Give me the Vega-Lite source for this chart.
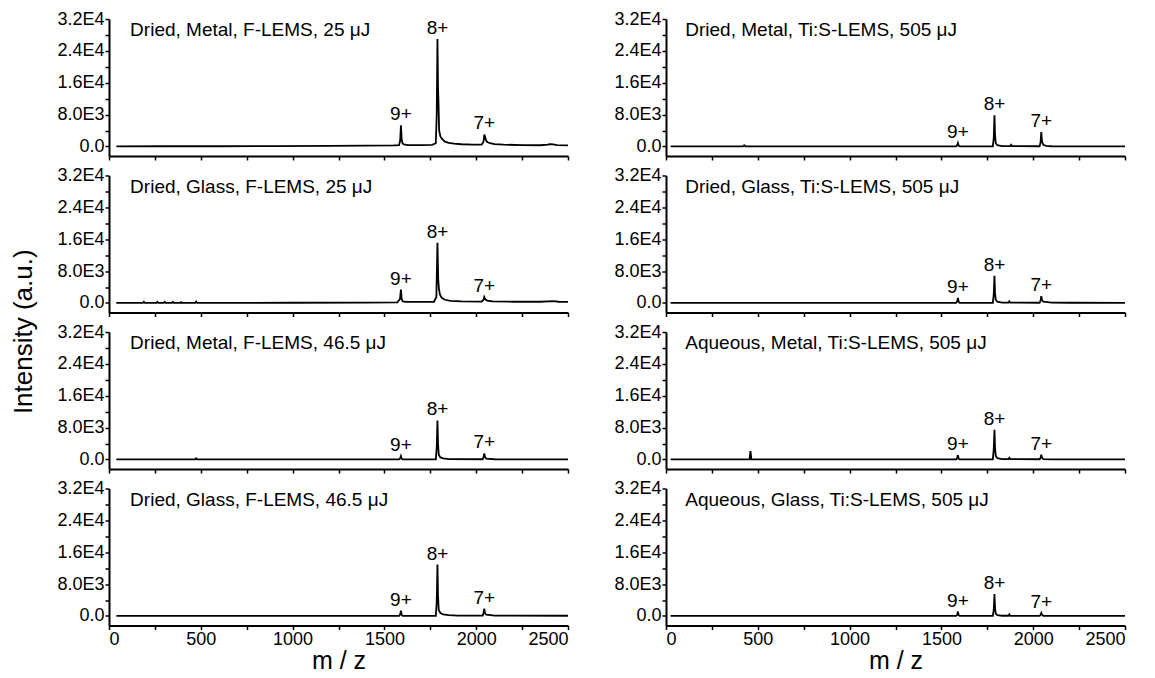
{
  "$schema": "https://vega.github.io/schema/vega-lite/v6.json",
  "background": "white",
  "padding": {"left": 10, "top": 10, "right": 20, "bottom": 0},
  "title": {"text": "Intensity (a.u.)", "orient": "left", "anchor": "middle", "fontSize": 26, "fontWeight": "normal", "font": "Liberation Sans", "color": "black", "offset": 20, "dx": 10},
  "datasets": {
    "panels": [
      {"panel": "a", "label": "Dried, Metal, F-LEMS, 25 μJ"},
      {"panel": "b", "label": "Dried, Metal, Ti:S-LEMS, 505 μJ"},
      {"panel": "c", "label": "Dried, Glass, F-LEMS, 25 μJ"},
      {"panel": "d", "label": "Dried, Glass, Ti:S-LEMS, 505 μJ"},
      {"panel": "e", "label": "Dried, Metal, F-LEMS, 46.5 μJ"},
      {"panel": "f", "label": "Aqueous, Metal, Ti:S-LEMS, 505 μJ"},
      {"panel": "g", "label": "Dried, Glass, F-LEMS, 46.5 μJ"},
      {"panel": "h", "label": "Aqueous, Glass, Ti:S-LEMS, 505 μJ"}
    ],
    "peaks": [
      {"panel": "a", "ion": "9+", "mz": 1590, "intensity": 5300},
      {"panel": "a", "ion": "8+", "mz": 1789, "intensity": 27000},
      {"panel": "a", "ion": "7+", "mz": 2044, "intensity": 3000},
      {"panel": "b", "ion": "9+", "mz": 1590, "intensity": 850},
      {"panel": "b", "ion": "8+", "mz": 1789, "intensity": 7850},
      {"panel": "b", "ion": "7+", "mz": 2044, "intensity": 3600},
      {"panel": "c", "ion": "9+", "mz": 1590, "intensity": 3350},
      {"panel": "c", "ion": "8+", "mz": 1789, "intensity": 15100},
      {"panel": "c", "ion": "7+", "mz": 2044, "intensity": 1500},
      {"panel": "d", "ion": "9+", "mz": 1590, "intensity": 1250},
      {"panel": "d", "ion": "8+", "mz": 1789, "intensity": 6800},
      {"panel": "d", "ion": "7+", "mz": 2044, "intensity": 1700},
      {"panel": "e", "ion": "9+", "mz": 1590, "intensity": 850},
      {"panel": "e", "ion": "8+", "mz": 1789, "intensity": 9800},
      {"panel": "e", "ion": "7+", "mz": 2044, "intensity": 1500},
      {"panel": "f", "ion": "9+", "mz": 1590, "intensity": 1100},
      {"panel": "f", "ion": "8+", "mz": 1789, "intensity": 7450},
      {"panel": "f", "ion": "7+", "mz": 2044, "intensity": 1170},
      {"panel": "g", "ion": "9+", "mz": 1590, "intensity": 1350},
      {"panel": "g", "ion": "8+", "mz": 1789, "intensity": 12900},
      {"panel": "g", "ion": "7+", "mz": 2044, "intensity": 1850},
      {"panel": "h", "ion": "9+", "mz": 1590, "intensity": 1100},
      {"panel": "h", "ion": "8+", "mz": 1789, "intensity": 5470},
      {"panel": "h", "ion": "7+", "mz": 2044, "intensity": 760}
    ],
    "spectra": [
      {"panel": "a", "mz": 40, "intensity": 0},
      {"panel": "a", "mz": 300, "intensity": 50},
      {"panel": "a", "mz": 600, "intensity": 50},
      {"panel": "a", "mz": 900, "intensity": 80},
      {"panel": "a", "mz": 1200, "intensity": 120},
      {"panel": "a", "mz": 1400, "intensity": 180},
      {"panel": "a", "mz": 1550, "intensity": 250},
      {"panel": "a", "mz": 1580, "intensity": 350},
      {"panel": "a", "mz": 1586, "intensity": 1500},
      {"panel": "a", "mz": 1590, "intensity": 5300},
      {"panel": "a", "mz": 1594, "intensity": 1800},
      {"panel": "a", "mz": 1598, "intensity": 900},
      {"panel": "a", "mz": 1605, "intensity": 500},
      {"panel": "a", "mz": 1630, "intensity": 350},
      {"panel": "a", "mz": 1700, "intensity": 350},
      {"panel": "a", "mz": 1760, "intensity": 400},
      {"panel": "a", "mz": 1780, "intensity": 800},
      {"panel": "a", "mz": 1785, "intensity": 8000},
      {"panel": "a", "mz": 1789, "intensity": 27000},
      {"panel": "a", "mz": 1792, "intensity": 15000},
      {"panel": "a", "mz": 1795, "intensity": 10400},
      {"panel": "a", "mz": 1798, "intensity": 4000},
      {"panel": "a", "mz": 1805, "intensity": 2500},
      {"panel": "a", "mz": 1815, "intensity": 1800},
      {"panel": "a", "mz": 1830, "intensity": 1200},
      {"panel": "a", "mz": 1850, "intensity": 900},
      {"panel": "a", "mz": 1880, "intensity": 700},
      {"panel": "a", "mz": 1920, "intensity": 550},
      {"panel": "a", "mz": 1980, "intensity": 450},
      {"panel": "a", "mz": 2030, "intensity": 450},
      {"panel": "a", "mz": 2040, "intensity": 1200},
      {"panel": "a", "mz": 2044, "intensity": 3000},
      {"panel": "a", "mz": 2048, "intensity": 2500},
      {"panel": "a", "mz": 2053, "intensity": 1600},
      {"panel": "a", "mz": 2060, "intensity": 1100},
      {"panel": "a", "mz": 2075, "intensity": 800},
      {"panel": "a", "mz": 2100, "intensity": 600},
      {"panel": "a", "mz": 2150, "intensity": 450},
      {"panel": "a", "mz": 2250, "intensity": 350},
      {"panel": "a", "mz": 2350, "intensity": 300},
      {"panel": "a", "mz": 2390, "intensity": 450},
      {"panel": "a", "mz": 2400, "intensity": 600},
      {"panel": "a", "mz": 2420, "intensity": 500},
      {"panel": "a", "mz": 2440, "intensity": 350},
      {"panel": "a", "mz": 2500, "intensity": 250},

      {"panel": "b", "mz": 25, "intensity": 0},
      {"panel": "b", "mz": 420, "intensity": 0},
      {"panel": "b", "mz": 426, "intensity": 300},
      {"panel": "b", "mz": 432, "intensity": 0},
      {"panel": "b", "mz": 1580, "intensity": 0},
      {"panel": "b", "mz": 1586, "intensity": 300},
      {"panel": "b", "mz": 1590, "intensity": 850},
      {"panel": "b", "mz": 1594, "intensity": 200},
      {"panel": "b", "mz": 1600, "intensity": 0},
      {"panel": "b", "mz": 1780, "intensity": 0},
      {"panel": "b", "mz": 1785, "intensity": 2000},
      {"panel": "b", "mz": 1789, "intensity": 7850},
      {"panel": "b", "mz": 1792, "intensity": 3000},
      {"panel": "b", "mz": 1796, "intensity": 800},
      {"panel": "b", "mz": 1805, "intensity": 300},
      {"panel": "b", "mz": 1830, "intensity": 100},
      {"panel": "b", "mz": 1875, "intensity": 100},
      {"panel": "b", "mz": 1880, "intensity": 400},
      {"panel": "b", "mz": 1885, "intensity": 100},
      {"panel": "b", "mz": 2035, "intensity": 50},
      {"panel": "b", "mz": 2040, "intensity": 1000},
      {"panel": "b", "mz": 2044, "intensity": 3600},
      {"panel": "b", "mz": 2048, "intensity": 1200},
      {"panel": "b", "mz": 2055, "intensity": 400},
      {"panel": "b", "mz": 2070, "intensity": 150},
      {"panel": "b", "mz": 2100, "intensity": 50},
      {"panel": "b", "mz": 2500, "intensity": 0},

      {"panel": "c", "mz": 40, "intensity": 0},
      {"panel": "c", "mz": 185, "intensity": 0},
      {"panel": "c", "mz": 190, "intensity": 300},
      {"panel": "c", "mz": 195, "intensity": 0},
      {"panel": "c", "mz": 258, "intensity": 0},
      {"panel": "c", "mz": 263, "intensity": 250},
      {"panel": "c", "mz": 268, "intensity": 0},
      {"panel": "c", "mz": 299, "intensity": 0},
      {"panel": "c", "mz": 304, "intensity": 250},
      {"panel": "c", "mz": 309, "intensity": 0},
      {"panel": "c", "mz": 343, "intensity": 0},
      {"panel": "c", "mz": 348, "intensity": 250},
      {"panel": "c", "mz": 353, "intensity": 0},
      {"panel": "c", "mz": 388, "intensity": 0},
      {"panel": "c", "mz": 393, "intensity": 200},
      {"panel": "c", "mz": 398, "intensity": 0},
      {"panel": "c", "mz": 470, "intensity": 0},
      {"panel": "c", "mz": 475, "intensity": 350},
      {"panel": "c", "mz": 480, "intensity": 0},
      {"panel": "c", "mz": 1000, "intensity": 50},
      {"panel": "c", "mz": 1400, "intensity": 100},
      {"panel": "c", "mz": 1570, "intensity": 150},
      {"panel": "c", "mz": 1585, "intensity": 1000},
      {"panel": "c", "mz": 1590, "intensity": 3350},
      {"panel": "c", "mz": 1594, "intensity": 900},
      {"panel": "c", "mz": 1600, "intensity": 400},
      {"panel": "c", "mz": 1620, "intensity": 250},
      {"panel": "c", "mz": 1700, "intensity": 250},
      {"panel": "c", "mz": 1770, "intensity": 300},
      {"panel": "c", "mz": 1783, "intensity": 1500},
      {"panel": "c", "mz": 1789, "intensity": 15100},
      {"panel": "c", "mz": 1793, "intensity": 6000},
      {"panel": "c", "mz": 1797, "intensity": 3600},
      {"panel": "c", "mz": 1802, "intensity": 2200},
      {"panel": "c", "mz": 1812, "intensity": 1300},
      {"panel": "c", "mz": 1830, "intensity": 800},
      {"panel": "c", "mz": 1860, "intensity": 500},
      {"panel": "c", "mz": 1920, "intensity": 400},
      {"panel": "c", "mz": 2030, "intensity": 350},
      {"panel": "c", "mz": 2040, "intensity": 800},
      {"panel": "c", "mz": 2044, "intensity": 1500},
      {"panel": "c", "mz": 2050, "intensity": 900},
      {"panel": "c", "mz": 2060, "intensity": 600},
      {"panel": "c", "mz": 2090, "intensity": 400},
      {"panel": "c", "mz": 2200, "intensity": 300},
      {"panel": "c", "mz": 2350, "intensity": 300},
      {"panel": "c", "mz": 2390, "intensity": 400},
      {"panel": "c", "mz": 2420, "intensity": 450},
      {"panel": "c", "mz": 2450, "intensity": 300},
      {"panel": "c", "mz": 2500, "intensity": 250},

      {"panel": "d", "mz": 25, "intensity": 0},
      {"panel": "d", "mz": 1580, "intensity": 0},
      {"panel": "d", "mz": 1586, "intensity": 400},
      {"panel": "d", "mz": 1590, "intensity": 1250},
      {"panel": "d", "mz": 1594, "intensity": 300},
      {"panel": "d", "mz": 1600, "intensity": 0},
      {"panel": "d", "mz": 1780, "intensity": 0},
      {"panel": "d", "mz": 1785, "intensity": 2000},
      {"panel": "d", "mz": 1789, "intensity": 6800},
      {"panel": "d", "mz": 1792, "intensity": 2500},
      {"panel": "d", "mz": 1796, "intensity": 800},
      {"panel": "d", "mz": 1805, "intensity": 300},
      {"panel": "d", "mz": 1830, "intensity": 100},
      {"panel": "d", "mz": 1865, "intensity": 100},
      {"panel": "d", "mz": 1870, "intensity": 400},
      {"panel": "d", "mz": 1875, "intensity": 100},
      {"panel": "d", "mz": 2035, "intensity": 50},
      {"panel": "d", "mz": 2040, "intensity": 600},
      {"panel": "d", "mz": 2044, "intensity": 1700},
      {"panel": "d", "mz": 2048, "intensity": 700},
      {"panel": "d", "mz": 2055, "intensity": 300},
      {"panel": "d", "mz": 2100, "intensity": 100},
      {"panel": "d", "mz": 2200, "intensity": 50},
      {"panel": "d", "mz": 2500, "intensity": 0},

      {"panel": "e", "mz": 40, "intensity": 0},
      {"panel": "e", "mz": 470, "intensity": 0},
      {"panel": "e", "mz": 475, "intensity": 250},
      {"panel": "e", "mz": 480, "intensity": 0},
      {"panel": "e", "mz": 1580, "intensity": 0},
      {"panel": "e", "mz": 1586, "intensity": 300},
      {"panel": "e", "mz": 1590, "intensity": 850},
      {"panel": "e", "mz": 1594, "intensity": 200},
      {"panel": "e", "mz": 1600, "intensity": 0},
      {"panel": "e", "mz": 1780, "intensity": 0},
      {"panel": "e", "mz": 1785, "intensity": 3000},
      {"panel": "e", "mz": 1789, "intensity": 9800},
      {"panel": "e", "mz": 1792, "intensity": 4000},
      {"panel": "e", "mz": 1796, "intensity": 1200},
      {"panel": "e", "mz": 1805, "intensity": 500},
      {"panel": "e", "mz": 1820, "intensity": 250},
      {"panel": "e", "mz": 1850, "intensity": 100},
      {"panel": "e", "mz": 2035, "intensity": 50},
      {"panel": "e", "mz": 2040, "intensity": 600},
      {"panel": "e", "mz": 2044, "intensity": 1500},
      {"panel": "e", "mz": 2048, "intensity": 600},
      {"panel": "e", "mz": 2055, "intensity": 200},
      {"panel": "e", "mz": 2100, "intensity": 50},
      {"panel": "e", "mz": 2500, "intensity": 0},

      {"panel": "f", "mz": 25, "intensity": 0},
      {"panel": "f", "mz": 455, "intensity": 0},
      {"panel": "f", "mz": 460, "intensity": 2100},
      {"panel": "f", "mz": 465, "intensity": 0},
      {"panel": "f", "mz": 1580, "intensity": 0},
      {"panel": "f", "mz": 1586, "intensity": 300},
      {"panel": "f", "mz": 1590, "intensity": 1100},
      {"panel": "f", "mz": 1594, "intensity": 200},
      {"panel": "f", "mz": 1600, "intensity": 0},
      {"panel": "f", "mz": 1780, "intensity": 0},
      {"panel": "f", "mz": 1785, "intensity": 2500},
      {"panel": "f", "mz": 1789, "intensity": 7450},
      {"panel": "f", "mz": 1792, "intensity": 3000},
      {"panel": "f", "mz": 1796, "intensity": 900},
      {"panel": "f", "mz": 1805, "intensity": 300},
      {"panel": "f", "mz": 1830, "intensity": 100},
      {"panel": "f", "mz": 1865, "intensity": 100},
      {"panel": "f", "mz": 1870, "intensity": 400},
      {"panel": "f", "mz": 1875, "intensity": 100},
      {"panel": "f", "mz": 2035, "intensity": 50},
      {"panel": "f", "mz": 2040, "intensity": 400},
      {"panel": "f", "mz": 2044, "intensity": 1170},
      {"panel": "f", "mz": 2048, "intensity": 400},
      {"panel": "f", "mz": 2055, "intensity": 100},
      {"panel": "f", "mz": 2100, "intensity": 0},
      {"panel": "f", "mz": 2500, "intensity": 0},

      {"panel": "g", "mz": 40, "intensity": 0},
      {"panel": "g", "mz": 1580, "intensity": 0},
      {"panel": "g", "mz": 1586, "intensity": 400},
      {"panel": "g", "mz": 1590, "intensity": 1350},
      {"panel": "g", "mz": 1594, "intensity": 300},
      {"panel": "g", "mz": 1600, "intensity": 0},
      {"panel": "g", "mz": 1780, "intensity": 0},
      {"panel": "g", "mz": 1785, "intensity": 3500},
      {"panel": "g", "mz": 1789, "intensity": 12900},
      {"panel": "g", "mz": 1792, "intensity": 5000},
      {"panel": "g", "mz": 1796, "intensity": 1500},
      {"panel": "g", "mz": 1805, "intensity": 700},
      {"panel": "g", "mz": 1820, "intensity": 400},
      {"panel": "g", "mz": 1850, "intensity": 200},
      {"panel": "g", "mz": 1900, "intensity": 100},
      {"panel": "g", "mz": 2035, "intensity": 100},
      {"panel": "g", "mz": 2040, "intensity": 700},
      {"panel": "g", "mz": 2044, "intensity": 1850},
      {"panel": "g", "mz": 2048, "intensity": 700},
      {"panel": "g", "mz": 2055, "intensity": 300},
      {"panel": "g", "mz": 2100, "intensity": 100},
      {"panel": "g", "mz": 2500, "intensity": 50},

      {"panel": "h", "mz": 25, "intensity": 0},
      {"panel": "h", "mz": 1580, "intensity": 0},
      {"panel": "h", "mz": 1586, "intensity": 300},
      {"panel": "h", "mz": 1590, "intensity": 1100},
      {"panel": "h", "mz": 1594, "intensity": 200},
      {"panel": "h", "mz": 1600, "intensity": 0},
      {"panel": "h", "mz": 1780, "intensity": 0},
      {"panel": "h", "mz": 1785, "intensity": 1500},
      {"panel": "h", "mz": 1789, "intensity": 5470},
      {"panel": "h", "mz": 1792, "intensity": 2000},
      {"panel": "h", "mz": 1796, "intensity": 600},
      {"panel": "h", "mz": 1805, "intensity": 200},
      {"panel": "h", "mz": 1830, "intensity": 50},
      {"panel": "h", "mz": 1865, "intensity": 50},
      {"panel": "h", "mz": 1870, "intensity": 400},
      {"panel": "h", "mz": 1875, "intensity": 50},
      {"panel": "h", "mz": 2035, "intensity": 0},
      {"panel": "h", "mz": 2040, "intensity": 300},
      {"panel": "h", "mz": 2044, "intensity": 760},
      {"panel": "h", "mz": 2048, "intensity": 300},
      {"panel": "h", "mz": 2055, "intensity": 50},
      {"panel": "h", "mz": 2100, "intensity": 0},
      {"panel": "h", "mz": 2500, "intensity": 0}
    ]
  },
  "columns": 2,
  "spacing": {"row": 19.5, "column": 98},
  "bounds": "flush",
  "concat": [
    {"width": 459, "height": 137, "layer": [
      {"data": {"name": "spectra"}, "transform": [{"filter": "datum.panel === 'a'"}], "mark": {"type": "line", "color": "black", "strokeWidth": 1.8},
       "encoding": {
         "x": {"field": "mz", "type": "quantitative", "scale": {"domain": [0, 2500], "nice": false, "zero": false}, "axis": {"values": [0, 250, 500, 750, 1000, 1250, 1500, 1750, 2000, 2250, 2500], "labels": false, "title": null}},
         "y": {"field": "intensity", "type": "quantitative", "scale": {"domain": [-2400, 32000], "nice": false, "zero": false}, "axis": {"values": [0, 4000, 8000, 12000, 16000, 20000, 24000, 28000, 32000], "labelExpr": "datum.value === 0 ? '0.0' : datum.value === 8000 ? '8.0E3' : datum.value === 16000 ? '1.6E4' : datum.value === 24000 ? '2.4E4' : datum.value === 32000 ? '3.2E4' : ''", "title": null}}}},
      {"data": {"name": "peaks"}, "transform": [{"filter": "datum.panel === 'a'"}], "mark": {"type": "text", "baseline": "alphabetic", "dy": -5},
       "encoding": {
         "x": {"field": "mz", "type": "quantitative", "axis": {"values": [0, 250, 500, 750, 1000, 1250, 1500, 1750, 2000, 2250, 2500], "labels": false, "title": null}},
         "y": {"field": "intensity", "type": "quantitative", "axis": {"values": [0, 4000, 8000, 12000, 16000, 20000, 24000, 28000, 32000], "labelExpr": "datum.value === 0 ? '0.0' : datum.value === 8000 ? '8.0E3' : datum.value === 16000 ? '1.6E4' : datum.value === 24000 ? '2.4E4' : datum.value === 32000 ? '3.2E4' : ''", "title": null}},
         "text": {"field": "ion"}}},
      {"data": {"name": "panels"}, "transform": [{"filter": "datum.panel === 'a'"}], "mark": {"type": "text", "align": "left", "baseline": "alphabetic"},
       "encoding": {
         "x": {"datum": 115, "type": "quantitative", "axis": {"values": [0, 250, 500, 750, 1000, 1250, 1500, 1750, 2000, 2250, 2500], "labels": false, "title": null}},
         "y": {"datum": 27700, "type": "quantitative", "axis": {"values": [0, 4000, 8000, 12000, 16000, 20000, 24000, 28000, 32000], "labelExpr": "datum.value === 0 ? '0.0' : datum.value === 8000 ? '8.0E3' : datum.value === 16000 ? '1.6E4' : datum.value === 24000 ? '2.4E4' : datum.value === 32000 ? '3.2E4' : ''", "title": null}},
         "text": {"field": "label"}}}
    ]},
    {"width": 459, "height": 137, "layer": [
      {"data": {"name": "spectra"}, "transform": [{"filter": "datum.panel === 'b'"}], "mark": {"type": "line", "color": "black", "strokeWidth": 1.8},
       "encoding": {
         "x": {"field": "mz", "type": "quantitative", "scale": {"domain": [0, 2500], "nice": false, "zero": false}, "axis": {"values": [0, 250, 500, 750, 1000, 1250, 1500, 1750, 2000, 2250, 2500], "labels": false, "title": null}},
         "y": {"field": "intensity", "type": "quantitative", "scale": {"domain": [-2400, 32000], "nice": false, "zero": false}, "axis": {"values": [0, 4000, 8000, 12000, 16000, 20000, 24000, 28000, 32000], "labelExpr": "datum.value === 0 ? '0.0' : datum.value === 8000 ? '8.0E3' : datum.value === 16000 ? '1.6E4' : datum.value === 24000 ? '2.4E4' : datum.value === 32000 ? '3.2E4' : ''", "title": null}}}},
      {"data": {"name": "peaks"}, "transform": [{"filter": "datum.panel === 'b'"}], "mark": {"type": "text", "baseline": "alphabetic", "dy": -5},
       "encoding": {
         "x": {"field": "mz", "type": "quantitative", "axis": {"values": [0, 250, 500, 750, 1000, 1250, 1500, 1750, 2000, 2250, 2500], "labels": false, "title": null}},
         "y": {"field": "intensity", "type": "quantitative", "axis": {"values": [0, 4000, 8000, 12000, 16000, 20000, 24000, 28000, 32000], "labelExpr": "datum.value === 0 ? '0.0' : datum.value === 8000 ? '8.0E3' : datum.value === 16000 ? '1.6E4' : datum.value === 24000 ? '2.4E4' : datum.value === 32000 ? '3.2E4' : ''", "title": null}},
         "text": {"field": "ion"}}},
      {"data": {"name": "panels"}, "transform": [{"filter": "datum.panel === 'b'"}], "mark": {"type": "text", "align": "left", "baseline": "alphabetic"},
       "encoding": {
         "x": {"datum": 105, "type": "quantitative", "axis": {"values": [0, 250, 500, 750, 1000, 1250, 1500, 1750, 2000, 2250, 2500], "labels": false, "title": null}},
         "y": {"datum": 27700, "type": "quantitative", "axis": {"values": [0, 4000, 8000, 12000, 16000, 20000, 24000, 28000, 32000], "labelExpr": "datum.value === 0 ? '0.0' : datum.value === 8000 ? '8.0E3' : datum.value === 16000 ? '1.6E4' : datum.value === 24000 ? '2.4E4' : datum.value === 32000 ? '3.2E4' : ''", "title": null}},
         "text": {"field": "label"}}}
    ]},
    {"width": 459, "height": 137, "layer": [
      {"data": {"name": "spectra"}, "transform": [{"filter": "datum.panel === 'c'"}], "mark": {"type": "line", "color": "black", "strokeWidth": 1.8},
       "encoding": {
         "x": {"field": "mz", "type": "quantitative", "scale": {"domain": [0, 2500], "nice": false, "zero": false}, "axis": {"values": [0, 250, 500, 750, 1000, 1250, 1500, 1750, 2000, 2250, 2500], "labels": false, "title": null}},
         "y": {"field": "intensity", "type": "quantitative", "scale": {"domain": [-2400, 32000], "nice": false, "zero": false}, "axis": {"values": [0, 4000, 8000, 12000, 16000, 20000, 24000, 28000, 32000], "labelExpr": "datum.value === 0 ? '0.0' : datum.value === 8000 ? '8.0E3' : datum.value === 16000 ? '1.6E4' : datum.value === 24000 ? '2.4E4' : datum.value === 32000 ? '3.2E4' : ''", "title": null}}}},
      {"data": {"name": "peaks"}, "transform": [{"filter": "datum.panel === 'c'"}], "mark": {"type": "text", "baseline": "alphabetic", "dy": -5},
       "encoding": {
         "x": {"field": "mz", "type": "quantitative", "axis": {"values": [0, 250, 500, 750, 1000, 1250, 1500, 1750, 2000, 2250, 2500], "labels": false, "title": null}},
         "y": {"field": "intensity", "type": "quantitative", "axis": {"values": [0, 4000, 8000, 12000, 16000, 20000, 24000, 28000, 32000], "labelExpr": "datum.value === 0 ? '0.0' : datum.value === 8000 ? '8.0E3' : datum.value === 16000 ? '1.6E4' : datum.value === 24000 ? '2.4E4' : datum.value === 32000 ? '3.2E4' : ''", "title": null}},
         "text": {"field": "ion"}}},
      {"data": {"name": "panels"}, "transform": [{"filter": "datum.panel === 'c'"}], "mark": {"type": "text", "align": "left", "baseline": "alphabetic"},
       "encoding": {
         "x": {"datum": 115, "type": "quantitative", "axis": {"values": [0, 250, 500, 750, 1000, 1250, 1500, 1750, 2000, 2250, 2500], "labels": false, "title": null}},
         "y": {"datum": 27700, "type": "quantitative", "axis": {"values": [0, 4000, 8000, 12000, 16000, 20000, 24000, 28000, 32000], "labelExpr": "datum.value === 0 ? '0.0' : datum.value === 8000 ? '8.0E3' : datum.value === 16000 ? '1.6E4' : datum.value === 24000 ? '2.4E4' : datum.value === 32000 ? '3.2E4' : ''", "title": null}},
         "text": {"field": "label"}}}
    ]},
    {"width": 459, "height": 137, "layer": [
      {"data": {"name": "spectra"}, "transform": [{"filter": "datum.panel === 'd'"}], "mark": {"type": "line", "color": "black", "strokeWidth": 1.8},
       "encoding": {
         "x": {"field": "mz", "type": "quantitative", "scale": {"domain": [0, 2500], "nice": false, "zero": false}, "axis": {"values": [0, 250, 500, 750, 1000, 1250, 1500, 1750, 2000, 2250, 2500], "labels": false, "title": null}},
         "y": {"field": "intensity", "type": "quantitative", "scale": {"domain": [-2400, 32000], "nice": false, "zero": false}, "axis": {"values": [0, 4000, 8000, 12000, 16000, 20000, 24000, 28000, 32000], "labelExpr": "datum.value === 0 ? '0.0' : datum.value === 8000 ? '8.0E3' : datum.value === 16000 ? '1.6E4' : datum.value === 24000 ? '2.4E4' : datum.value === 32000 ? '3.2E4' : ''", "title": null}}}},
      {"data": {"name": "peaks"}, "transform": [{"filter": "datum.panel === 'd'"}], "mark": {"type": "text", "baseline": "alphabetic", "dy": -5},
       "encoding": {
         "x": {"field": "mz", "type": "quantitative", "axis": {"values": [0, 250, 500, 750, 1000, 1250, 1500, 1750, 2000, 2250, 2500], "labels": false, "title": null}},
         "y": {"field": "intensity", "type": "quantitative", "axis": {"values": [0, 4000, 8000, 12000, 16000, 20000, 24000, 28000, 32000], "labelExpr": "datum.value === 0 ? '0.0' : datum.value === 8000 ? '8.0E3' : datum.value === 16000 ? '1.6E4' : datum.value === 24000 ? '2.4E4' : datum.value === 32000 ? '3.2E4' : ''", "title": null}},
         "text": {"field": "ion"}}},
      {"data": {"name": "panels"}, "transform": [{"filter": "datum.panel === 'd'"}], "mark": {"type": "text", "align": "left", "baseline": "alphabetic"},
       "encoding": {
         "x": {"datum": 105, "type": "quantitative", "axis": {"values": [0, 250, 500, 750, 1000, 1250, 1500, 1750, 2000, 2250, 2500], "labels": false, "title": null}},
         "y": {"datum": 27700, "type": "quantitative", "axis": {"values": [0, 4000, 8000, 12000, 16000, 20000, 24000, 28000, 32000], "labelExpr": "datum.value === 0 ? '0.0' : datum.value === 8000 ? '8.0E3' : datum.value === 16000 ? '1.6E4' : datum.value === 24000 ? '2.4E4' : datum.value === 32000 ? '3.2E4' : ''", "title": null}},
         "text": {"field": "label"}}}
    ]},
    {"width": 459, "height": 137, "layer": [
      {"data": {"name": "spectra"}, "transform": [{"filter": "datum.panel === 'e'"}], "mark": {"type": "line", "color": "black", "strokeWidth": 1.8},
       "encoding": {
         "x": {"field": "mz", "type": "quantitative", "scale": {"domain": [0, 2500], "nice": false, "zero": false}, "axis": {"values": [0, 250, 500, 750, 1000, 1250, 1500, 1750, 2000, 2250, 2500], "labels": false, "title": null}},
         "y": {"field": "intensity", "type": "quantitative", "scale": {"domain": [-2400, 32000], "nice": false, "zero": false}, "axis": {"values": [0, 4000, 8000, 12000, 16000, 20000, 24000, 28000, 32000], "labelExpr": "datum.value === 0 ? '0.0' : datum.value === 8000 ? '8.0E3' : datum.value === 16000 ? '1.6E4' : datum.value === 24000 ? '2.4E4' : datum.value === 32000 ? '3.2E4' : ''", "title": null}}}},
      {"data": {"name": "peaks"}, "transform": [{"filter": "datum.panel === 'e'"}], "mark": {"type": "text", "baseline": "alphabetic", "dy": -5},
       "encoding": {
         "x": {"field": "mz", "type": "quantitative", "axis": {"values": [0, 250, 500, 750, 1000, 1250, 1500, 1750, 2000, 2250, 2500], "labels": false, "title": null}},
         "y": {"field": "intensity", "type": "quantitative", "axis": {"values": [0, 4000, 8000, 12000, 16000, 20000, 24000, 28000, 32000], "labelExpr": "datum.value === 0 ? '0.0' : datum.value === 8000 ? '8.0E3' : datum.value === 16000 ? '1.6E4' : datum.value === 24000 ? '2.4E4' : datum.value === 32000 ? '3.2E4' : ''", "title": null}},
         "text": {"field": "ion"}}},
      {"data": {"name": "panels"}, "transform": [{"filter": "datum.panel === 'e'"}], "mark": {"type": "text", "align": "left", "baseline": "alphabetic"},
       "encoding": {
         "x": {"datum": 115, "type": "quantitative", "axis": {"values": [0, 250, 500, 750, 1000, 1250, 1500, 1750, 2000, 2250, 2500], "labels": false, "title": null}},
         "y": {"datum": 27700, "type": "quantitative", "axis": {"values": [0, 4000, 8000, 12000, 16000, 20000, 24000, 28000, 32000], "labelExpr": "datum.value === 0 ? '0.0' : datum.value === 8000 ? '8.0E3' : datum.value === 16000 ? '1.6E4' : datum.value === 24000 ? '2.4E4' : datum.value === 32000 ? '3.2E4' : ''", "title": null}},
         "text": {"field": "label"}}}
    ]},
    {"width": 459, "height": 137, "layer": [
      {"data": {"name": "spectra"}, "transform": [{"filter": "datum.panel === 'f'"}], "mark": {"type": "line", "color": "black", "strokeWidth": 1.8},
       "encoding": {
         "x": {"field": "mz", "type": "quantitative", "scale": {"domain": [0, 2500], "nice": false, "zero": false}, "axis": {"values": [0, 250, 500, 750, 1000, 1250, 1500, 1750, 2000, 2250, 2500], "labels": false, "title": null}},
         "y": {"field": "intensity", "type": "quantitative", "scale": {"domain": [-2400, 32000], "nice": false, "zero": false}, "axis": {"values": [0, 4000, 8000, 12000, 16000, 20000, 24000, 28000, 32000], "labelExpr": "datum.value === 0 ? '0.0' : datum.value === 8000 ? '8.0E3' : datum.value === 16000 ? '1.6E4' : datum.value === 24000 ? '2.4E4' : datum.value === 32000 ? '3.2E4' : ''", "title": null}}}},
      {"data": {"name": "peaks"}, "transform": [{"filter": "datum.panel === 'f'"}], "mark": {"type": "text", "baseline": "alphabetic", "dy": -5},
       "encoding": {
         "x": {"field": "mz", "type": "quantitative", "axis": {"values": [0, 250, 500, 750, 1000, 1250, 1500, 1750, 2000, 2250, 2500], "labels": false, "title": null}},
         "y": {"field": "intensity", "type": "quantitative", "axis": {"values": [0, 4000, 8000, 12000, 16000, 20000, 24000, 28000, 32000], "labelExpr": "datum.value === 0 ? '0.0' : datum.value === 8000 ? '8.0E3' : datum.value === 16000 ? '1.6E4' : datum.value === 24000 ? '2.4E4' : datum.value === 32000 ? '3.2E4' : ''", "title": null}},
         "text": {"field": "ion"}}},
      {"data": {"name": "panels"}, "transform": [{"filter": "datum.panel === 'f'"}], "mark": {"type": "text", "align": "left", "baseline": "alphabetic"},
       "encoding": {
         "x": {"datum": 105, "type": "quantitative", "axis": {"values": [0, 250, 500, 750, 1000, 1250, 1500, 1750, 2000, 2250, 2500], "labels": false, "title": null}},
         "y": {"datum": 27700, "type": "quantitative", "axis": {"values": [0, 4000, 8000, 12000, 16000, 20000, 24000, 28000, 32000], "labelExpr": "datum.value === 0 ? '0.0' : datum.value === 8000 ? '8.0E3' : datum.value === 16000 ? '1.6E4' : datum.value === 24000 ? '2.4E4' : datum.value === 32000 ? '3.2E4' : ''", "title": null}},
         "text": {"field": "label"}}}
    ]},
    {"width": 459, "height": 137, "layer": [
      {"data": {"name": "spectra"}, "transform": [{"filter": "datum.panel === 'g'"}], "mark": {"type": "line", "color": "black", "strokeWidth": 1.8},
       "encoding": {
         "x": {"field": "mz", "type": "quantitative", "scale": {"domain": [0, 2500], "nice": false, "zero": false}, "axis": {"values": [0, 250, 500, 750, 1000, 1250, 1500, 1750, 2000, 2250, 2500], "labelExpr": "datum.value % 500 === 0 ? '' + datum.value : ''", "title": "m / z"}},
         "y": {"field": "intensity", "type": "quantitative", "scale": {"domain": [-2400, 32000], "nice": false, "zero": false}, "axis": {"values": [0, 4000, 8000, 12000, 16000, 20000, 24000, 28000, 32000], "labelExpr": "datum.value === 0 ? '0.0' : datum.value === 8000 ? '8.0E3' : datum.value === 16000 ? '1.6E4' : datum.value === 24000 ? '2.4E4' : datum.value === 32000 ? '3.2E4' : ''", "title": null}}}},
      {"data": {"name": "peaks"}, "transform": [{"filter": "datum.panel === 'g'"}], "mark": {"type": "text", "baseline": "alphabetic", "dy": -5},
       "encoding": {
         "x": {"field": "mz", "type": "quantitative", "axis": {"values": [0, 250, 500, 750, 1000, 1250, 1500, 1750, 2000, 2250, 2500], "labelExpr": "datum.value % 500 === 0 ? '' + datum.value : ''", "title": "m / z"}},
         "y": {"field": "intensity", "type": "quantitative", "axis": {"values": [0, 4000, 8000, 12000, 16000, 20000, 24000, 28000, 32000], "labelExpr": "datum.value === 0 ? '0.0' : datum.value === 8000 ? '8.0E3' : datum.value === 16000 ? '1.6E4' : datum.value === 24000 ? '2.4E4' : datum.value === 32000 ? '3.2E4' : ''", "title": null}},
         "text": {"field": "ion"}}},
      {"data": {"name": "panels"}, "transform": [{"filter": "datum.panel === 'g'"}], "mark": {"type": "text", "align": "left", "baseline": "alphabetic"},
       "encoding": {
         "x": {"datum": 115, "type": "quantitative", "axis": {"values": [0, 250, 500, 750, 1000, 1250, 1500, 1750, 2000, 2250, 2500], "labelExpr": "datum.value % 500 === 0 ? '' + datum.value : ''", "title": "m / z"}},
         "y": {"datum": 27700, "type": "quantitative", "axis": {"values": [0, 4000, 8000, 12000, 16000, 20000, 24000, 28000, 32000], "labelExpr": "datum.value === 0 ? '0.0' : datum.value === 8000 ? '8.0E3' : datum.value === 16000 ? '1.6E4' : datum.value === 24000 ? '2.4E4' : datum.value === 32000 ? '3.2E4' : ''", "title": null}},
         "text": {"field": "label"}}}
    ]},
    {"width": 459, "height": 137, "layer": [
      {"data": {"name": "spectra"}, "transform": [{"filter": "datum.panel === 'h'"}], "mark": {"type": "line", "color": "black", "strokeWidth": 1.8},
       "encoding": {
         "x": {"field": "mz", "type": "quantitative", "scale": {"domain": [0, 2500], "nice": false, "zero": false}, "axis": {"values": [0, 250, 500, 750, 1000, 1250, 1500, 1750, 2000, 2250, 2500], "labelExpr": "datum.value % 500 === 0 ? '' + datum.value : ''", "title": "m / z"}},
         "y": {"field": "intensity", "type": "quantitative", "scale": {"domain": [-2400, 32000], "nice": false, "zero": false}, "axis": {"values": [0, 4000, 8000, 12000, 16000, 20000, 24000, 28000, 32000], "labelExpr": "datum.value === 0 ? '0.0' : datum.value === 8000 ? '8.0E3' : datum.value === 16000 ? '1.6E4' : datum.value === 24000 ? '2.4E4' : datum.value === 32000 ? '3.2E4' : ''", "title": null}}}},
      {"data": {"name": "peaks"}, "transform": [{"filter": "datum.panel === 'h'"}], "mark": {"type": "text", "baseline": "alphabetic", "dy": -5},
       "encoding": {
         "x": {"field": "mz", "type": "quantitative", "axis": {"values": [0, 250, 500, 750, 1000, 1250, 1500, 1750, 2000, 2250, 2500], "labelExpr": "datum.value % 500 === 0 ? '' + datum.value : ''", "title": "m / z"}},
         "y": {"field": "intensity", "type": "quantitative", "axis": {"values": [0, 4000, 8000, 12000, 16000, 20000, 24000, 28000, 32000], "labelExpr": "datum.value === 0 ? '0.0' : datum.value === 8000 ? '8.0E3' : datum.value === 16000 ? '1.6E4' : datum.value === 24000 ? '2.4E4' : datum.value === 32000 ? '3.2E4' : ''", "title": null}},
         "text": {"field": "ion"}}},
      {"data": {"name": "panels"}, "transform": [{"filter": "datum.panel === 'h'"}], "mark": {"type": "text", "align": "left", "baseline": "alphabetic"},
       "encoding": {
         "x": {"datum": 105, "type": "quantitative", "axis": {"values": [0, 250, 500, 750, 1000, 1250, 1500, 1750, 2000, 2250, 2500], "labelExpr": "datum.value % 500 === 0 ? '' + datum.value : ''", "title": "m / z"}},
         "y": {"datum": 27700, "type": "quantitative", "axis": {"values": [0, 4000, 8000, 12000, 16000, 20000, 24000, 28000, 32000], "labelExpr": "datum.value === 0 ? '0.0' : datum.value === 8000 ? '8.0E3' : datum.value === 16000 ? '1.6E4' : datum.value === 24000 ? '2.4E4' : datum.value === 32000 ? '3.2E4' : ''", "title": null}},
         "text": {"field": "label"}}}
    ]}
  ],
  "config": {
    "font": "Liberation Sans",
    "view": {"stroke": null},
    "axis": {
      "grid": false,
      "domainColor": "black",
      "domainWidth": 2,
      "tickColor": "black",
      "tickWidth": 1.5,
      "tickSize": 4,
      "labelColor": "black",
      "labelFont": "Liberation Sans",
      "labelFontSize": 18,
      "labelPadding": 1,
      "labelOverlap": false,
      "titleColor": "black",
      "titleFont": "Liberation Sans",
      "titleFontSize": 25,
      "titleFontWeight": "normal",
      "titlePadding": 0
    },
    "text": {"font": "Liberation Sans", "fontSize": 19, "color": "black"}
  }
}
